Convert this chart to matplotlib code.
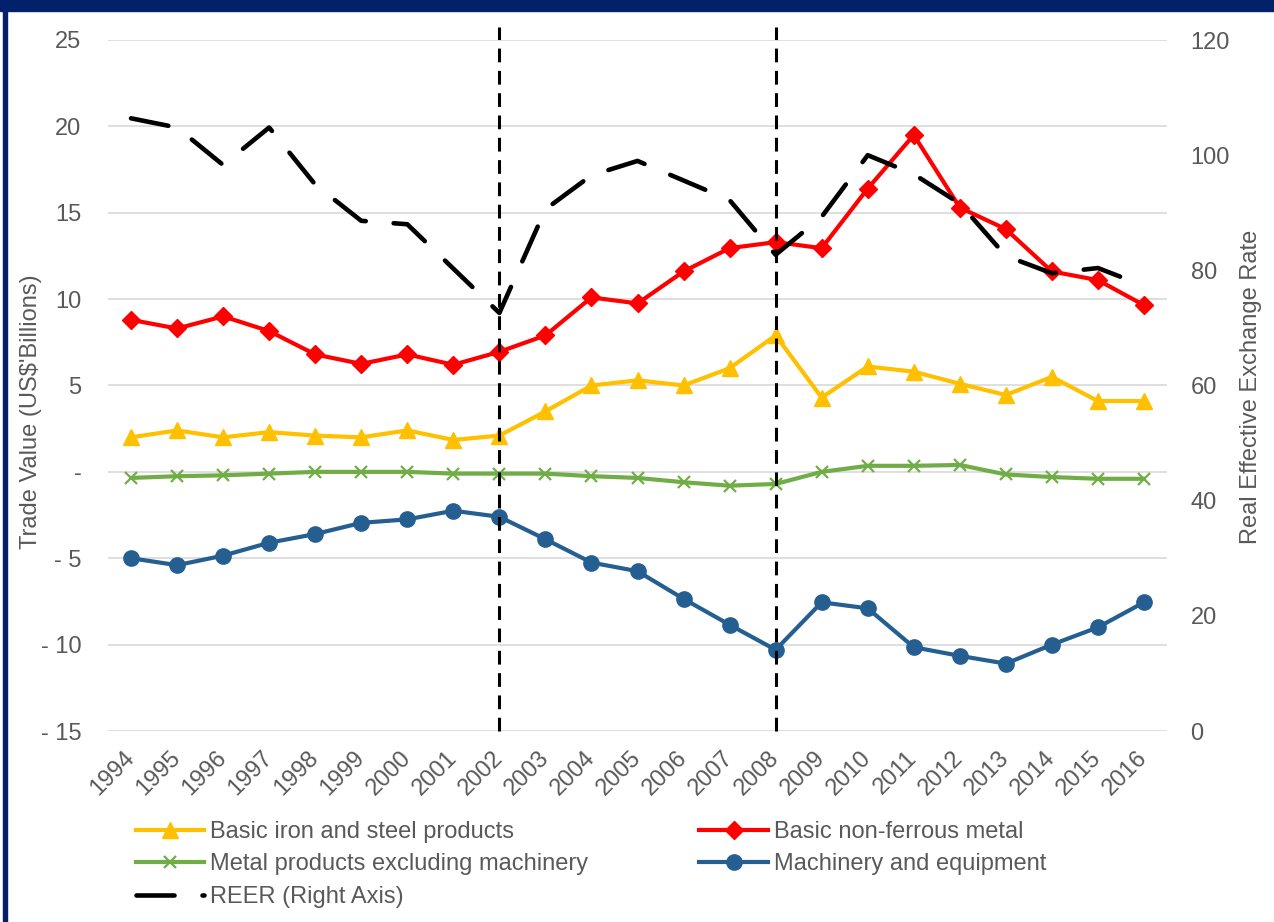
import matplotlib
matplotlib.use("Agg")
import matplotlib.pyplot as plt
from matplotlib.patches import Rectangle
from matplotlib.transforms import ScaledTranslation

plt.rcParams['font.family'] = ['Liberation Sans', 'DejaVu Sans']

years = [str(y) for y in range(1994, 2017)]
iron_steel = [2.0, 2.4, 2.0, 2.3, 2.1, 2.0, 2.4, 1.85, 2.1, 3.5, 5.0, 5.3, 5.0, 6.0,
              7.9, 4.3, 6.1, 5.8, 5.1, 4.45, 5.5, 4.1, 4.1]
non_ferrous = [8.8, 8.3, 9.0, 8.15, 6.8, 6.25, 6.8, 6.2, 6.95, 7.9, 10.1, 9.75, 11.6, 12.95,
               13.3, 12.95, 16.4, 19.5, 15.3, 14.05, 11.6, 11.1, 9.65]
metal_products = [-0.35, -0.25, -0.2, -0.1, 0.0, 0.0, 0.0, -0.1, -0.1, -0.1, -0.25, -0.35,
                  -0.6, -0.8, -0.7, 0.0, 0.35, 0.35, 0.4, -0.15, -0.3, -0.4, -0.4]
machinery = [-5.0, -5.4, -4.85, -4.1, -3.6, -2.95, -2.75, -2.25, -2.6, -3.9, -5.25, -5.75,
             -7.35, -8.85, -10.3, -7.55, -7.9, -10.15, -10.65, -11.1, -10.0, -9.0, -7.55]
reer = [106.4, 104.8, 98.3, 104.8, 94.9, 88.6, 88.0, 80.3, 72.6, 90.6, 96.5, 99.0, 95.6,
        92.2, 82.7, 89.3, 100.0, 96.7, 91.6, 82.5, 79.5, 80.4, 77.3]
event_years = ['2002', '2008']

left_ticks = [-15, -10, -5, 0, 5, 10, 15, 20, 25]
left_tick_labels = ['- 15', '- 10', '- 5', '-', '5', '10', '15', '20', '25']
right_ticks = [0, 20, 40, 60, 80, 100, 120]

labels = ['Basic iron and steel products', 'Basic non-ferrous metal',
          'Metal products excluding machinery', 'Machinery and equipment',
          'REER (Right Axis)']

TXT = '#595959'
GRID = '#D9D9D9'
FS = 17

W, H = 1274, 922
fig = plt.figure(figsize=(W / 100, H / 100), dpi=100)
fig.patch.set_facecolor('white')

ax = fig.add_axes([108 / W, 1 - 731 / H, (1167 - 108) / W, (731 - 40) / H])
ax2 = ax.twinx()

x = list(range(len(years)))

l1, = ax.plot(x, iron_steel, color='#FFC000', lw=3, marker='^', ms=11, zorder=3)
l2, = ax.plot(x, non_ferrous, color='#FF0000', lw=3, marker='D', ms=9, zorder=3)
l3, = ax.plot(x, metal_products, color='#70AD47', lw=3, marker='x', ms=9, mew=1.6, zorder=3)
l4, = ax.plot(x, machinery, color='#255E91', lw=3, marker='o', ms=11, zorder=3)

l5, = ax2.plot(x, reer, color='black', lw=3.3, linestyle=(0, (8.3, 6.1)),
               dash_capstyle='round', solid_capstyle='round', zorder=4)

for ey in event_years:
    ax2.axvline(years.index(ey), ymin=0, ymax=1.019, color='black', lw=2.2,
                linestyle=(0, (4.5, 2.8)), clip_on=False, zorder=5)

ax.set_xlim(-0.5, len(years) - 0.5)
ax.set_ylim(-15, 25)
ax2.set_ylim(0, 120)

ax.set_yticks(left_ticks)
ax.set_yticklabels(left_tick_labels)
ax2.set_yticks(right_ticks)
ax2.set_yticklabels([str(t) for t in right_ticks])

ax.set_xticks(x)
ax.set_xticklabels(years, rotation=45, ha='right', va='center', rotation_mode='anchor')
shift = ScaledTranslation(6 / 100, 0, fig.dpi_scale_trans)
for lab in ax.get_xticklabels():
    lab.set_transform(lab.get_transform() + shift)

ax.grid(axis='y', color=GRID, lw=1.2)
ax.set_axisbelow(True)
for a in (ax, ax2):
    for s in a.spines.values():
        s.set_visible(False)
    a.tick_params(length=0, colors=TXT, labelsize=FS)
ax.tick_params(axis='y', pad=19)
ax2.tick_params(axis='y', pad=17)
ax.tick_params(axis='x', pad=17)

fig.text(31 / W, 1 - 412 / H, "Trade Value (US$'Billions)", rotation=90, color=TXT,
         fontsize=FS, ha='center', va='center')
fig.text(1251 / W, 1 - 387 / H, 'Real Effective Exchange Rate', rotation=90, color=TXT,
         fontsize=FS, ha='center', va='center')

handles = [l1, l3, l5, l2, l4]
hlabels = [labels[0], labels[2], labels[4], labels[1], labels[3]]
leg = fig.legend(handles, hlabels, ncol=2, loc='upper left',
                 bbox_to_anchor=(136 / W, 1 - 821 / H), frameon=False,
                 fontsize=FS, labelcolor=TXT, handlelength=2.9, handletextpad=0.25,
                 columnspacing=4.7, labelspacing=0.44, borderaxespad=0, borderpad=0)

# navy frame
fig.add_artist(Rectangle((0, 1 - 11 / H), 1, 11 / H, transform=fig.transFigure,
                         color='#03216A', zorder=10))
fig.add_artist(Rectangle((2.5 / W, 0), 4.5 / W, 1, transform=fig.transFigure,
                         color='#03216A', zorder=10))

fig.savefig('out.png', dpi=100)
